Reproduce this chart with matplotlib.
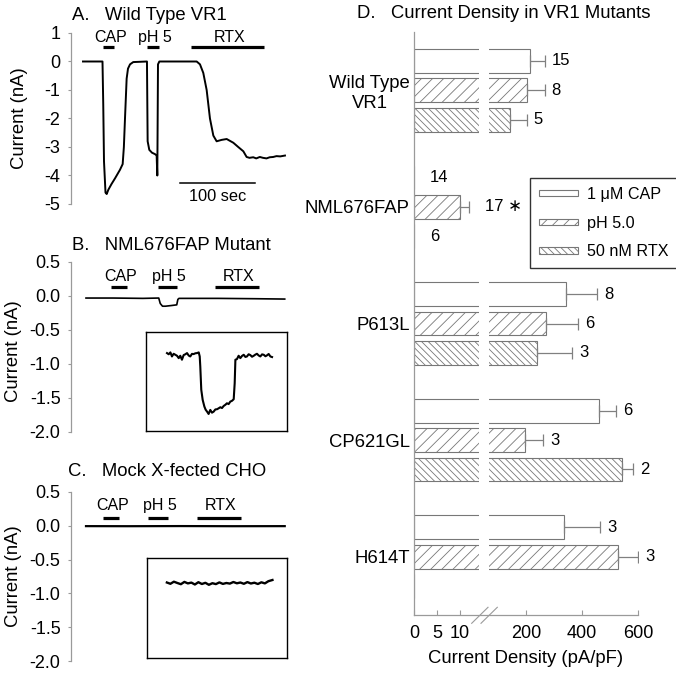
import numpy as np
import matplotlib
matplotlib.use('Agg')
import matplotlib.pyplot as plt
from matplotlib.lines import Line2D

plt.rcParams['font.family'] = ['Liberation Sans', 'DejaVu Sans']
plt.rcParams['axes.unicode_minus'] = False
plt.rcParams['hatch.linewidth'] = 0.6
plt.rcParams['hatch.color'] = '#666666'

# ---------------- data ----------------
stim_names = ['CAP', 'pH 5', 'RTX']

# Panel A: wild type trace (time in s, current in nA)
a_time = [0, 26, 27, 28, 30, 31.6, 33.8, 38, 42.7, 49.3, 52.9, 54.5, 56, 58.2, 60, 62.7, 67, 85.3, 86.2, 88.4,
          92, 96, 98.2, 99.1, 100, 101.8, 120, 151.6, 156, 160.4, 164.9, 169.3, 173.8, 178.2, 184.9, 191.6, 200.4,
          207, 213.8, 218.2, 222, 227, 231, 235.8, 240, 244.7, 249, 253.6, 258, 263, 269.3]
a_current = [0, 0, -1.5, -3.5, -4.6, -4.65, -4.5, -4.3, -4.1, -3.8, -3.6, -3.0, -2.0, -0.6, -0.25, -0.1, -0.02, 0,
             -2.8, -3.1, -3.2, -3.25, -3.3, -4.0, -0.1, 0, 0, 0, -0.1, -0.4, -1.0, -2.0, -2.6, -2.8, -2.75, -2.72,
             -2.85, -3.0, -3.15, -3.35, -3.38, -3.36, -3.4, -3.35, -3.38, -3.4, -3.36, -3.35, -3.32, -3.33, -3.3]
a_stim_on = [27, 85, 144]
a_stim_off = [42, 102, 242]
a_scalebar = [129.3, 229.3]

# Panel B: NML676FAP trace
b_time = [4, 40, 80, 101, 103, 106, 110, 118, 125, 126.5, 128, 180, 230, 269]
b_current = [-0.03, -0.03, -0.035, -0.03, -0.11, -0.15, -0.15, -0.14, -0.13, -0.05, -0.035, -0.035, -0.04, -0.045]
b_stim_on = [38, 100, 176]
b_stim_off = [59, 126, 235]
# inset (arbitrary units)
ib_x = [14.9, 16.1, 17.3, 18.4, 19.6, 20.8, 22.0, 23.2, 24.3, 25.5, 26.7, 27.9, 29.1, 30.3, 31.4, 32.6, 33.8,
        35.0, 36.2, 37.4, 38.1, 38.5, 39.2, 40.2, 41.4, 42.3, 43.3, 44.4, 45.6, 46.8, 48.0, 49.2, 50.4, 51.6,
        52.7, 53.9, 55.1, 56.3, 57.4, 58.6, 59.8, 61.0, 62.2, 62.9, 63.4, 64.5, 65.7, 66.9, 68.1, 69.3, 70.5,
        71.6, 72.8, 74.0, 75.2, 76.4, 77.6, 78.7, 79.9, 81.1, 82.3, 83.5, 84.7, 85.8, 87.0, 88.2, 89.4]
ib_y = [78.7, 77.5, 79.4, 75.3, 78.0, 77.0, 76.0, 73.6, 76.0, 72.0, 76.7, 77.5, 78.7, 76.2, 75.3, 77.9, 77.7,
        78.5, 78.7, 79.4, 75.3, 65.2, 41.6, 31.4, 24.7, 21.5, 19.6, 17.2, 21.3, 18.5, 19.6, 21.8, 22.0, 23.0,
        24.0, 23.2, 25.3, 26.5, 28.0, 27.2, 29.7, 30.5, 32.1, 48.3, 72.0, 72.6, 76.0, 73.6, 75.8, 77.0, 74.8,
        75.3, 77.5, 76.7, 75.0, 76.0, 77.2, 78.0, 76.3, 75.3, 77.4, 77.0, 75.5, 76.4, 77.8, 75.3, 74.7]

# Panel C: mock transfected trace
c_time = [4, 60, 130, 200, 269]
c_current = [-0.005, -0.006, -0.004, -0.006, -0.005]
c_stim_on = [27, 87, 152]
c_stim_off = [48, 114, 211]
ic_x = [14.2, 16.7, 19.2, 21.7, 24.2, 26.7, 29.2, 31.7, 34.2, 36.7, 39.2, 41.7, 44.2, 46.7, 49.2, 51.7,
        54.2, 56.7, 59.2, 61.7, 64.2, 66.7, 69.2, 71.7, 74.2, 76.7, 79.2, 81.7, 84.2, 86.7, 89.6]
ic_y = [75.5, 74.2, 76.3, 75.0, 73.8, 76.1, 74.6, 75.4, 73.5, 75.8, 74.0, 75.2, 73.2, 74.8, 73.9, 75.6,
        74.1, 75.0, 74.4, 76.0, 74.7, 75.5, 74.2, 75.9, 74.5, 75.3, 74.0, 75.7, 74.6, 76.8, 78.0]

# Panel D: current density (pA/pF)
groups = ['Wild Type\nVR1', 'NML676FAP', 'P613L', 'CP621GL', 'H614T']
cap_mean = [213, 0, 344, 462, 335]
cap_sem = [54, 0, 110, 61, 129]
cap_n = ['15', '14', '8', '6', '3']
ph_mean = [205, 10.1, 273, 198, 529]
ph_sem = [62, 1.9, 113, 63, 71]
ph_n = ['8', '17 \u2217', '6', '3', '3']
rtx_mean = [142, 0, 239, 544, np.nan]
rtx_sem = [60, 0, 126, 38, np.nan]
rtx_n = ['5', '6', '3', '2', '']
legend_labels = ['1 \u03bcM CAP', 'pH 5.0', '50 nM RTX']
d_ticks = [0, 5, 10, 200, 400, 600]

# ---------------- figure ----------------
W, H = 676, 675
fig = plt.figure(figsize=(W / 100, H / 100), dpi=100)


def rect(l, t, r, b):
    return [l / W, 1 - b / H, (r - l) / W, (b - t) / H]


GRAY = '#9a9a9a'


def trace_axes(r, ylim, ticks, fmt):
    ax = fig.add_axes(r)
    ax.set_xlim(-16, 274.7)
    ax.set_ylim(*ylim)
    for s in ['top', 'right', 'bottom']:
        ax.spines[s].set_visible(False)
    ax.spines['left'].set_color(GRAY)
    ax.spines['left'].set_linewidth(0.9)
    ax.set_xticks([])
    ax.set_yticks(ticks)
    ax.set_yticklabels([fmt.format(t) for t in ticks])
    ax.tick_params(axis='y', length=2.5, width=0.8, color=GRAY, pad=5, labelsize=13)
    ax.patch.set_alpha(0)
    return ax


def stim(ax, on, off, bar_y, lab_y):
    for name, s, e in zip(stim_names, on, off):
        ax.plot([s, e], [bar_y, bar_y], color='black', lw=2.3, solid_capstyle='butt')
        ax.text((s + e) / 2 + 2, lab_y, name, ha='center', va='center', fontsize=11.5)


# Panel A
axA = trace_axes(rect(71, 33, 289, 204), (-5, 1), [1, 0, -1, -2, -3, -4, -5], '{:d}')
axA.plot(a_time, a_current, color='black', lw=1.4)
stim(axA, a_stim_on, a_stim_off, 0.5, 0.85)
axA.plot(a_scalebar, [-4.25, -4.25], color='black', lw=1.1)
axA.text(np.mean(a_scalebar), -4.72, '100 sec', ha='center', va='center', fontsize=11.8)

# Panel B
axB = trace_axes(rect(71, 262, 289, 432), (-2.0, 0.5), [0.5, 0.0, -0.5, -1.0, -1.5, -2.0], '{:.1f}')
axB.plot(b_time, b_current, color='black', lw=1.2)
stim(axB, b_stim_on, b_stim_off, 0.13, 0.28)
insB = fig.add_axes(rect(146, 332, 287, 431))
insB.plot(ib_x, ib_y, color='black', lw=1.5)
insB.set_xlim(0, 100)
insB.set_ylim(0, 100)
insB.set_xticks([])
insB.set_yticks([])
for s in insB.spines.values():
    s.set_linewidth(1.0)

# Panel C
axC = trace_axes(rect(71, 492, 289, 661), (-2.0, 0.5), [0.5, 0.0, -0.5, -1.0, -1.5, -2.0], '{:.1f}')
axC.plot(c_time, c_current, color='black', lw=1.6)
stim(axC, c_stim_on, c_stim_off, 0.12, 0.30)
insC = fig.add_axes(rect(147, 558, 287, 658))
insC.plot(ic_x, ic_y, color='black', lw=1.7)
insC.set_xlim(0, 100)
insC.set_ylim(0, 100)
insC.set_xticks([])
insC.set_yticks([])
for s in insC.spines.values():
    s.set_linewidth(1.0)

# titles and y labels of trace panels
fig.text(72 / W, 1 - 15 / H, 'A.   Wild Type VR1', ha='left', va='center', fontsize=13.3)
fig.text(72 / W, 1 - 245 / H, 'B.   NML676FAP Mutant', ha='left', va='center', fontsize=13.3)
fig.text(68 / W, 1 - 472 / H, 'C.   Mock X-fected CHO', ha='left', va='center', fontsize=13.3)
fig.text(357 / W, 1 - 13 / H, 'D.   Current Density in VR1 Mutants', ha='left', va='center', fontsize=13.3)
for xc, yc in [(20, 118), (14, 351), (14, 576)]:
    fig.text(xc / W, 1 - yc / H, 'Current (nA)', rotation=90, ha='center', va='center', fontsize=13.3)

# Panel D with broken x axis
L_END, R_START = 14.1, 67.0
L_SLOPE, GAP, R_SLOPE = 4.6, 10.0, 0.28


def fwd(v):
    v = np.asarray(v, dtype=float)
    left = v * L_SLOPE
    mid = L_END * L_SLOPE + (v - L_END) / (R_START - L_END) * GAP
    right = L_END * L_SLOPE + GAP + (v - R_START) * R_SLOPE
    return np.where(v <= L_END, left, np.where(v <= R_START, mid, right))


def inv(u):
    u = np.asarray(u, dtype=float)
    u1 = L_END * L_SLOPE
    u2 = u1 + GAP
    left = u / L_SLOPE
    mid = L_END + (u - u1) / GAP * (R_START - L_END)
    right = R_START + (u - u2) / R_SLOPE
    return np.where(u <= u1, left, np.where(u <= u2, mid, right))


axD = fig.add_axes(rect(414, 32, 638, 615))
axD.set_xscale('function', functions=(fwd, inv))
axD.set_xlim(0, 600)
axD.set_ylim(4.5, -0.5)

pos = np.arange(len(groups))
off = 0.252
hgt = 0.205
EDGE = '#777777'
series = [
    (cap_mean, cap_sem, cap_n, -off, ''),
    (ph_mean, ph_sem, ph_n, 0.0, '///'),
    (rtx_mean, rtx_sem, rtx_n, off, '\\\\\\\\\\'),
]
handles = []
for mean, sem, ns, o, hatch in series:
    m = np.array(mean, dtype=float)
    e = np.array(sem, dtype=float)
    y = pos + o
    bars = axD.barh(y, np.nan_to_num(m), height=hgt, color='white', edgecolor=EDGE,
                    linewidth=0.8, hatch=hatch, zorder=1)
    handles.append(bars)
    ok = (~np.isnan(m)) & (e > 0)
    axD.errorbar(m[ok], y[ok], xerr=[np.zeros(ok.sum()), e[ok]], fmt='none',
                 ecolor='#808080', elinewidth=0.9, capsize=4.5, capthick=0.9, zorder=3)
    for i in range(len(groups)):
        if ns[i] == '':
            continue
        xend = np.nan_to_num(m[i]) + np.nan_to_num(e[i])
        pad = 11.5 if i == 1 else 5
        axD.annotate(ns[i], (xend, y[i]), xytext=(pad, 0), textcoords='offset points',
                     ha='left', va='center', fontsize=12, annotation_clip=False)

# axis break gap through the bars
axD.axvspan(L_END, R_START, color='white', zorder=2, lw=0)

for s in ['top', 'right']:
    axD.spines[s].set_visible(False)
for s in ['left', 'bottom']:
    axD.spines[s].set_color(GRAY)
    axD.spines[s].set_linewidth(0.9)
    axD.spines[s].set_zorder(4)
axD.set_yticks(pos)
axD.set_yticklabels(groups, fontsize=13.3, multialignment='center')
axD.tick_params(axis='y', length=0, pad=3)
axD.set_xticks(d_ticks)
axD.set_xticklabels([str(t) for t in d_ticks])
axD.xaxis.set_minor_locator(matplotlib.ticker.NullLocator())
axD.tick_params(axis='x', direction='in', length=3.6, width=0.8, color=GRAY, pad=7, labelsize=13)
axD.set_xlabel('Current Density (pA/pF)', fontsize=13.3, labelpad=6)
axD.patch.set_alpha(0)

# break marks
for x0 in [471.7, 481.0]:
    fig.add_artist(Line2D([x0 / W, (x0 + 16.3) / W], [1 - 623.3 / H, 1 - 607.3 / H],
                          color=GRAY, lw=0.8, transform=fig.transFigure))

leg = axD.legend(handles, legend_labels, loc='upper left', bbox_to_anchor=(530 / W, 1 - 178 / H),
                 bbox_transform=fig.transFigure, borderaxespad=0, fontsize=11.6, frameon=True,
                 fancybox=False, edgecolor='black', handlelength=2.4, handleheight=0.22,
                 labelspacing=0.85, borderpad=0.55, handletextpad=0.6)
leg.get_frame().set_linewidth(1.0)
leg.set_zorder(5)

fig.savefig('out.png', dpi=100)
